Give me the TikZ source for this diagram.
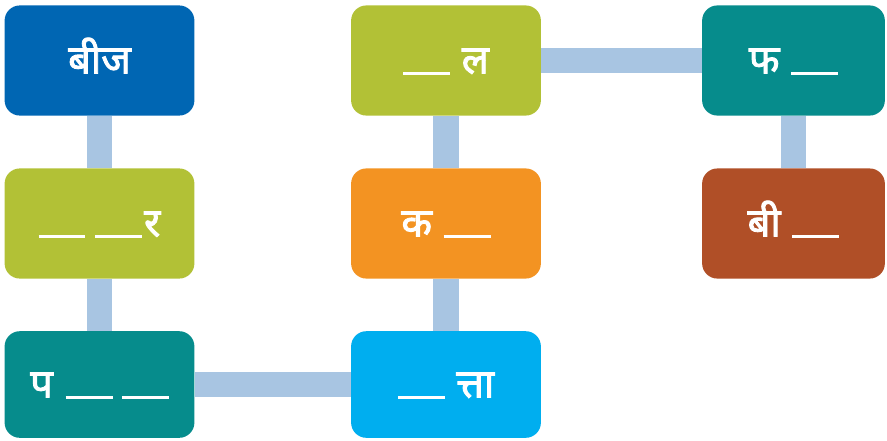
\documentclass[tikz,border=0pt]{standalone}
\usepackage{fontspec}
\usepackage{tikz}
\usetikzlibrary{backgrounds}
\newfontfamily\hindi[Script=Devanagari,FakeBold=2.2]{Noto Sans}
\definecolor{seedblue}{HTML}{0066B3}
\definecolor{leafgreen}{HTML}{B2C136}
\definecolor{tealbox}{HTML}{068C8C}
\definecolor{budorange}{HTML}{F39322}
\definecolor{skyblue}{HTML}{00AEEF}
\definecolor{rustbox}{HTML}{B04F27}
\definecolor{linkcolor}{HTML}{A8C5E2}
\newcommand{\blank}{\rule[-1pt]{40pt}{1.8pt}}
\tikzset{
  card/.style={rounded corners=13pt, minimum width=#1, minimum height=94pt,
    inner sep=0pt, text=white, font=\hindi\fontsize{34}{36}\selectfont,
    text height=22pt, text depth=0pt},
  card/.default=162pt,
  link/.style={linkcolor, line width=22pt}
}

\begin{document}
\begin{tikzpicture}[x=0.03cm, y=-0.03cm]
    \useasboundingbox (0,0) rectangle (887,440);

    % first column
    \node[card, fill=seedblue]  (beej)   at (99.5,60.5)  {बीज};
    \node[card, fill=leafgreen] (ankur)  at (99.5,223.5) {\blank\hspace{8pt}\blank\hspace{2pt}र};
    \node[card, fill=tealbox, minimum height=91pt] (paudha) at (99.5,384.5) {प\hspace{11pt}\blank\hspace{8pt}\blank};

    % second column
    \node[card, fill=leafgreen] (phool)  at (446,60.5)  {\blank\hspace{10pt}ल};
    \node[card, fill=budorange] (kali)   at (446,223.5) {क\hspace{10pt}\blank};
    \node[card, fill=skyblue, minimum height=91pt] (patta) at (446,384.5) {\blank\hspace{10pt}त्ता};

    % third column
    \node[card=156pt, fill=tealbox]  (phal)  at (793.5,60.5)  {फ\hspace{10pt}\blank};
    \node[card=156pt, fill=rustbox]  (beej2) at (793.5,223.5) {बी\hspace{10pt}\blank};

    % links behind the cards
    \begin{pgfonlayer}{background}
        \draw[link] (beej) -- (ankur) -- (paudha) -- (patta) -- (kali) -- (phool) -- (phal) -- (beej2);
    \end{pgfonlayer}
\end{tikzpicture}
\end{document}
